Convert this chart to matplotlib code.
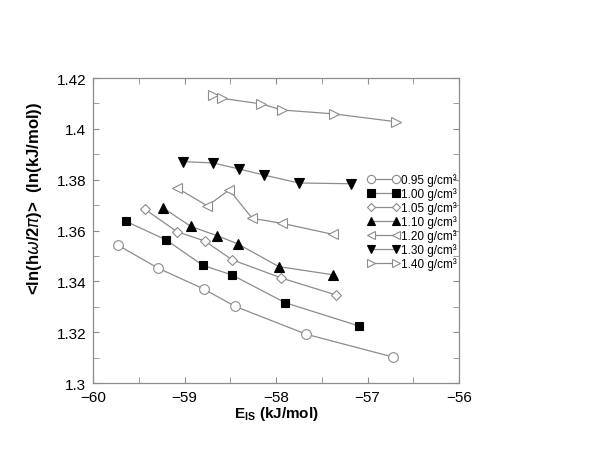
import matplotlib
matplotlib.use("Agg")
from matplotlib import pyplot as plt
from matplotlib.ticker import MultipleLocator, FuncFormatter

plt.rcParams['font.family'] = ['Liberation Sans', 'DejaVu Sans']
plt.rcParams['mathtext.fontset'] = 'custom'
plt.rcParams['mathtext.rm'] = 'Liberation Sans'
plt.rcParams['mathtext.bf'] = 'Liberation Sans:bold'

# E_IS (kJ/mol) and <ln(h omega / 2 pi)> for each density
densities = ['0.95', '1.00', '1.05', '1.10', '1.20', '1.30', '1.40']

e_095 = [-59.73, -59.29, -58.79, -58.45, -57.67, -56.72]
w_095 = [1.3543, 1.3452, 1.3370, 1.3302, 1.3192, 1.3102]

e_100 = [-59.64, -59.20, -58.80, -58.48, -57.90, -57.09]
w_100 = [1.3636, 1.3563, 1.3463, 1.3425, 1.3316, 1.3224]

e_105 = [-59.43, -59.08, -58.78, -58.48, -57.94, -57.34]
w_105 = [1.3683, 1.3595, 1.3559, 1.3485, 1.3413, 1.3346]

e_110 = [-59.23, -58.93, -58.64, -58.42, -57.97, -57.38]
w_110 = [1.3688, 1.3616, 1.3579, 1.3548, 1.3458, 1.3426]

e_120 = [-59.08, -58.75, -58.51, -58.26, -57.93, -57.38]
w_120 = [1.3767, 1.3697, 1.3760, 1.3648, 1.3628, 1.3585]

e_130 = [-59.02, -58.69, -58.40, -58.13, -57.75, -57.18]
w_130 = [1.3871, 1.3866, 1.3842, 1.3818, 1.3787, 1.3784]

e_140 = [-58.69, -58.59, -58.16, -57.93, -57.37, -56.69]
w_140 = [1.4133, 1.4120, 1.4098, 1.4074, 1.4059, 1.4028]

series = [(e_095, w_095), (e_100, w_100), (e_105, w_105), (e_110, w_110),
          (e_120, w_120), (e_130, w_130), (e_140, w_140)]

# marker, size, filled
styles = [('o', 7, False), ('s', 6, True), ('D', 5, False),
          ('^', 7, True), ('<', 7.5, False), ('v', 7, True), ('>', 7.5, False)]

line_col = '#8c8c8c'

fig = plt.figure(figsize=(6, 4.64), dpi=100)
ax = fig.add_axes([0.155, 0.1724, 0.61, 0.6573])

for (e, w), (m, ms, filled), d in zip(series, styles, densities):
    if filled:
        fc, ec = 'black', 'black'
    else:
        fc, ec = 'white', line_col
    ax.plot(e, w, color=line_col, lw=0.9, marker=m, markersize=ms,
            markerfacecolor=fc, markeredgecolor=ec, markeredgewidth=0.8,
            label=d + ' g/cm\u00b3')

ax.set_xlim(-60, -56)
ax.set_ylim(1.3, 1.42)
ax.xaxis.set_major_locator(MultipleLocator(1))
ax.xaxis.set_minor_locator(MultipleLocator(0.5))
ax.yaxis.set_major_locator(MultipleLocator(0.02))
ax.yaxis.set_minor_locator(MultipleLocator(0.01))
ax.xaxis.set_major_formatter(FuncFormatter(lambda v, p: '\u2212%d' % round(-v)))
ax.yaxis.set_major_formatter(FuncFormatter(lambda v, p: ('%.2f' % v).rstrip('0')))
ax.tick_params(which='both', direction='in', top=True, right=True,
               color=line_col, length=4, labelsize=11, pad=5)
for spine in ax.spines.values():
    spine.set_color(line_col)
    spine.set_linewidth(0.9)

ax.set_xlabel(r'E$_{\mathregular{IS}}$ (kJ/mol)', fontsize=11,
              fontweight='bold')
ax.set_ylabel(r'<ln(h$\omega$/2$\pi$)>  (ln(kJ/mol))', fontsize=12,
              fontweight='bold')
ax.yaxis.set_label_coords(-0.135, 0.61)
ax.xaxis.set_label_coords(0.5, -0.07)

ax.legend(loc='upper left', bbox_to_anchor=(0.613, 0.624),
          bbox_transform=fig.transFigure, frameon=False, numpoints=2,
          fontsize=8.5, handlelength=2.7, handletextpad=0.1,
          labelspacing=0.1, borderpad=0, borderaxespad=0, markerscale=0.85)

fig.savefig('out.png', dpi=100)
